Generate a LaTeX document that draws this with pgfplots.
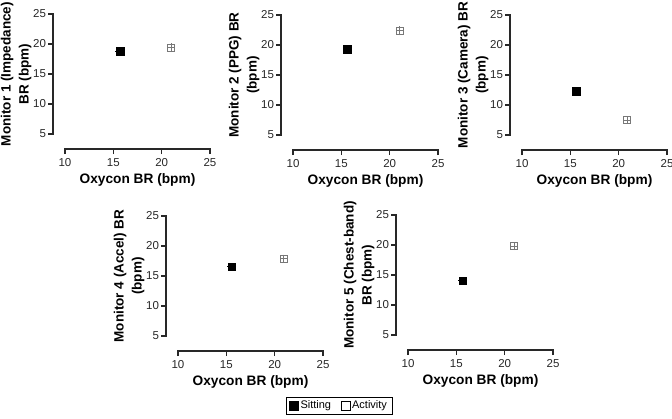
\documentclass[border=0pt]{standalone}
\usepackage{pgfplots}
\pgfplotsset{compat=1.18}
\usepackage{fontspec}
\setmainfont{Liberation Sans}
\definecolor{actgray}{RGB}{120,120,120}
\definecolor{axgray}{RGB}{40,40,40}
\pgfplotsset{
  panel/.style={
    scale only axis, width=145pt, height=120pt,
    xmin=10, xmax=25, ymin=5, ymax=25,
    axis lines*=left,
    axis x line shift=15pt, axis y line shift=12pt,
    xtick={10,15,20,25}, ytick={5,10,15,20,25},
    minor tick num=0,
    tick align=outside, major tick length=5pt,
    axis line style={draw=none},
    tick style={line width=1.3pt, axgray},
    tick label style={font=\fontsize{11.5}{12}\selectfont, text=axgray},
    /pgf/number format/assume math mode=true,
    xticklabel style={yshift=-1pt},
    yticklabel style={xshift=1.5pt},
    xlabel={Oxycon BR (bpm)},
    xlabel style={font=\bfseries\fontsize{13.7}{16}\selectfont, yshift=0pt},
    ylabel style={font=\bfseries\fontsize{13.5}{18}\selectfont, align=center,
      anchor=south},
    clip=false,
    anchor=south west,
    after end axis/.code={
      \draw[line width=1.3pt, axgray, line cap=rect]
        ([yshift=-15pt]axis cs:10,5) -- ([yshift=-15pt]axis cs:25,5);
      \draw[line width=1.3pt, axgray, line cap=rect]
        ([xshift=-12pt]axis cs:10,5) -- ([xshift=-12pt]axis cs:10,25);
    },
  },
  sit/.style={only marks, mark=square*, mark size=3.9pt, black,
    mark options={fill=black, draw=black},
    legend image code/.code={\fill[black] (0pt,-4.5pt) rectangle (9pt,4.5pt);},
    error bars/.cd, x dir=both, x explicit, y dir=both, y explicit,
    error bar style={line width=0.8pt, black}, error mark options={mark size=1.5pt, line width=0.8pt}},
  act/.style={only marks, mark=square, mark size=3.5pt, actgray,
    mark options={draw=actgray, fill=white, line width=1pt},
    legend image code/.code={\draw[black, line width=0.6pt] (0.3pt,-4.2pt) rectangle (8.7pt,4.2pt);},
    error bars/.cd, x dir=both, x explicit, y dir=both, y explicit,
    error bar style={line width=0.8pt, actgray}, error mark options={mark size=1.5pt, line width=0.8pt}},
}
\begin{document}
\begin{tikzpicture}
\useasboundingbox (0pt,0pt) rectangle (672pt,-418pt);
% Panel 1
\begin{axis}[panel, at={(65pt,-134pt)}, ylabel={Monitor 1 (Impedance)\\BR (bpm)},
  ylabel style={at={([xshift=-30pt]axis description cs:0,0.5)}}]
\addplot[sit] coordinates {(15.67,18.8) +- (0.3,0.4)};
\addplot[act] coordinates {(21.0,19.4) +- (0.2,0.5)};
\end{axis}
% Panel 2
\begin{axis}[panel, at={(293pt,-135pt)}, ylabel={Monitor 2 (PPG) BR\\(bpm)},
  ylabel style={at={([xshift=-30pt]axis description cs:0,0.5)}}]
\addplot[sit] coordinates {(15.6,19.3) +- (0.25,0.3)};
\addplot[act] coordinates {(21.05,22.4) +- (0.2,0.5)};
\end{axis}
% Panel 3
\begin{axis}[panel, at={(522pt,-135pt)}, ylabel={Monitor 3 (Camera) BR\\(bpm)},
  ylabel style={at={([xshift=-30pt]axis description cs:0,0.5)}}]
\addplot[sit] coordinates {(15.6,12.35) +- (0.25,0.3)};
\addplot[act] coordinates {(20.9,7.45) +- (0.2,0.4)};
\end{axis}
% Panel 4
\begin{axis}[panel, at={(178pt,-336pt)}, ylabel={Monitor 4 (Accel) BR\\(bpm)},
  ylabel style={at={([xshift=-30pt]axis description cs:0,0.5)}},
  legend style={at={(1.11,-0.58)}, anchor=center, legend columns=2,
    draw=black, line width=0.6pt, font=\fontsize{11}{13}\selectfont,
    /tikz/every even column/.append style={column sep=8pt},
    inner xsep=3pt, inner ysep=1.5pt},
  ]
\addplot[sit] coordinates {(15.55,16.55) +- (0.3,0.35)};
\addlegendentry{Sitting}
\addplot[act] coordinates {(20.95,17.9) +- (0.2,0.4)};
\addlegendentry{Activity}
\end{axis}
% Panel 5
\begin{axis}[panel, at={(408pt,-335pt)}, ylabel={Monitor 5 (Chest-band)\\BR (bpm)},
  ylabel style={at={([xshift=-30pt]axis description cs:0,0.5)}}]
\addplot[sit] coordinates {(15.65,14.05) +- (0.3,0.35)};
\addplot[act] coordinates {(20.98,19.8) +- (0.2,0.4)};
\end{axis}
\end{tikzpicture}
\end{document}
